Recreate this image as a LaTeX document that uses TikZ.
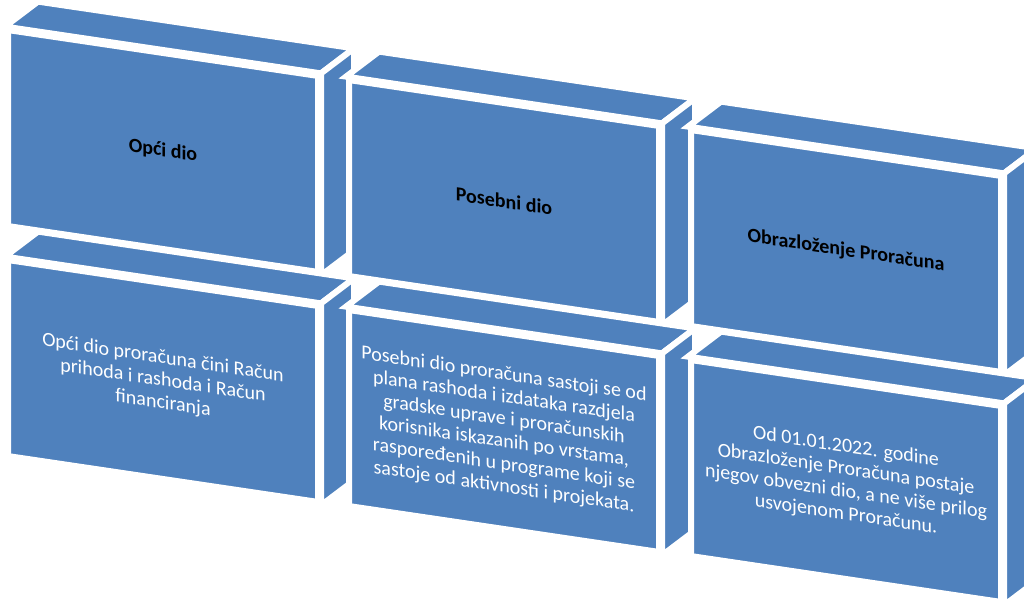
\documentclass[tikz,border=0pt]{standalone}
\usepackage{fontspec}
\setmainfont{Carlito}
\usetikzlibrary{positioning, calc}

\definecolor{boxblue}{HTML}{4F81BD}

\begin{document}
\begin{tikzpicture}[
        x=1pt, y=-1pt,
        face/.style={fill=boxblue, draw=white, line width=6pt, line join=miter},
        front/.style={face, rectangle, minimum width=310pt, minimum height=196pt,
            inner sep=2pt, yslant=-0.148, align=center},
        title/.style={front, text=black, font=\fontsize{20}{22}\selectfont\bfseries},
        body/.style={front, text=white, font=\fontsize{20}{22.5}\selectfont},
    ]

    \useasboundingbox (0,0) rectangle (1024,601);
    \clip (0,0) rectangle (1024,601);

    % Draw the boxes, column by column, top one first
    \foreach \name / \x / \y / \kind / \txt in {
            T1/163/151/title/{Opći dio},
            B1/163/381/body/{Opći dio proračuna čini Račun\\prihoda i rashoda i Račun\\financiranja},
            T2/504/201/title/{Posebni dio},
            B2/504/431/body/{Posebni dio proračuna sastoji se od\\plana rashoda i izdataka razdjela\\gradske uprave i proračunskih\\korisnika iskazanih po vrstama,\\raspoređenih u programe koji se\\sastoje od aktivnosti i projekata.},
            T3/846/251/title/{Obrazloženje Proračuna},
            B3/846/481/body/{Od 01.01.2022. godine\\Obrazloženje Proračuna postaje\\njegov obvezni dio, a ne više prilog\\usvojenom Proračunu.}}
    {
        \node[\kind] (\name) at (\x,\y) {\txt};
        % top and side faces
        \path[face] (\name.north west) -- (\name.north east) -- ++(33,-25)
            -- ([shift={(33,-25)}]\name.north west) -- cycle;
        \path[face] (\name.north east) -- (\name.south east) -- ++(33,-25)
            -- ([shift={(33,-25)}]\name.north east) -- cycle;
    }
\end{tikzpicture}
\end{document}
